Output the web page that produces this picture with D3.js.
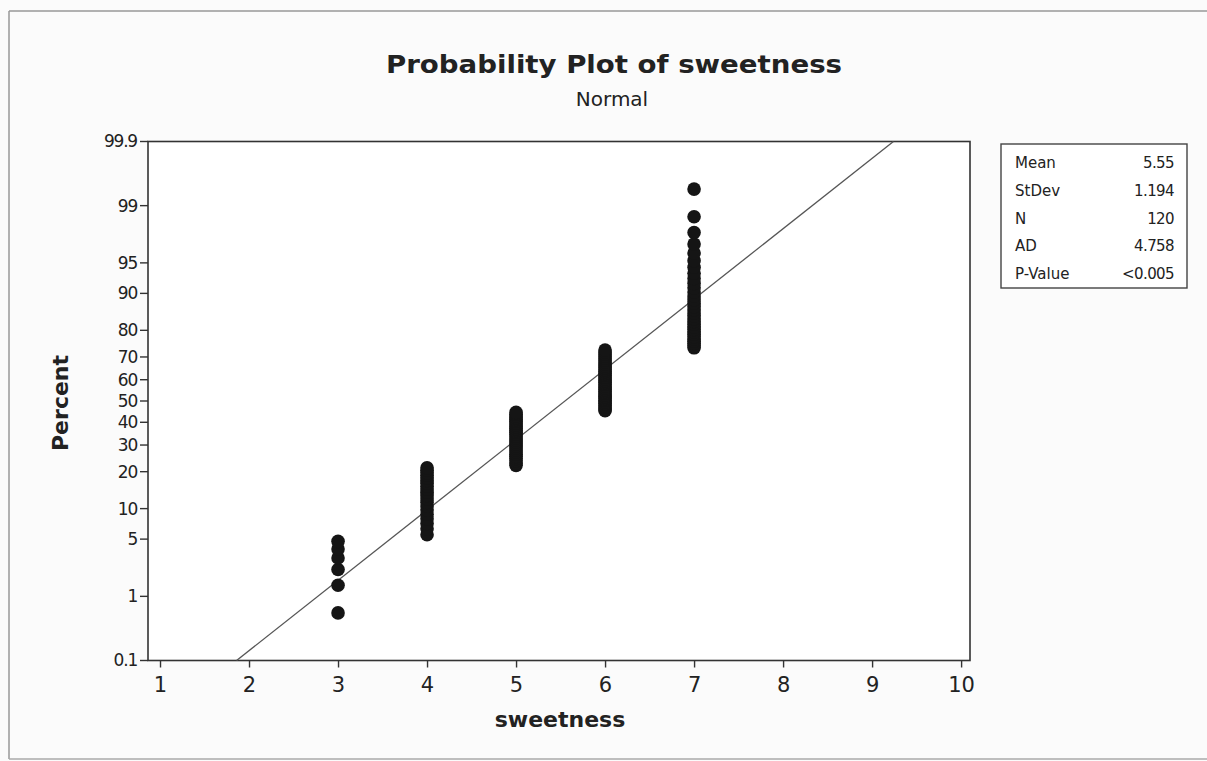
<!DOCTYPE html>
<html>
<head>
<meta charset="utf-8">
<script src="https://cdn.jsdelivr.net/npm/d3@7"></script>
<style>
  body { margin: 0; background: #fbfbfb; }
  text { font-family: "DejaVu Sans", Verdana, sans-serif; fill: #222; }
</style>
</head>
<body>
<div class="chart"></div>
<script>
  // sweetness scores and how many of the 120 tasters gave each one
  var scores = [3, 4, 5, 6, 7];
  var counts = [6, 20, 28, 34, 32];

  // percent axis ticks and x ticks
  var percentTicks = [0.1, 1, 5, 10, 20, 30, 40, 50, 60, 70, 80, 90, 95, 99, 99.9];
  var xTicks = [1, 2, 3, 4, 5, 6, 7, 8, 9, 10];

  // summary table
  var statNames = ['Mean', 'StDev', 'N', 'AD', 'P-Value'];
  var statValues = ['5.55', '1.194', '120', '4.758', '<0.005'];

  var width = 1207;
  var height = 761;

  var svg = d3.select('.chart')
    .append('svg')
    .attr('width', width)
    .attr('height', height);

  // paper border
  svg.append('line').attr('x1', 9).attr('x2', width).attr('y1', 11).attr('y2', 11)
    .attr('stroke', '#999').attr('stroke-width', 1.5);
  svg.append('line').attr('x1', 9).attr('x2', 9).attr('y1', 11).attr('y2', 759)
    .attr('stroke', '#999').attr('stroke-width', 1.5);
  svg.append('line').attr('x1', 9).attr('x2', width).attr('y1', 759).attr('y2', 759)
    .attr('stroke', '#aaa').attr('stroke-width', 1.5);

  // plot frame edges (window.top is taken, so own names)
  var plotLeft = 148, plotRight = 970, plotTop = 141.5, plotBottom = 660.5;

  // inverse normal cdf (Acklam)
  function probit(p) {
    var a = [-39.69683028665376, 220.9460984245205, -275.9285104469687, 138.3577518672690, -30.66479806614716, 2.506628277459239];
    var b = [-54.47609879822406, 161.5858368580409, -155.6989798598866, 66.80131188771972, -13.28068155288572];
    var c = [-0.007784894002430293, -0.3223964580411365, -2.400758277161838, -2.549732539343734, 4.374664141464968, 2.938163982698783];
    var d = [0.007784695709041462, 0.3224671290700398, 2.445134137142996, 3.754408661907416];
    var q, r;
    if (p < 0.02425) {
      q = Math.sqrt(-2 * Math.log(p));
      return (((((c[0]*q+c[1])*q+c[2])*q+c[3])*q+c[4])*q+c[5]) / ((((d[0]*q+d[1])*q+d[2])*q+d[3])*q+1);
    } else if (p > 1 - 0.02425) {
      q = Math.sqrt(-2 * Math.log(1 - p));
      return -(((((c[0]*q+c[1])*q+c[2])*q+c[3])*q+c[4])*q+c[5]) / ((((d[0]*q+d[1])*q+d[2])*q+d[3])*q+1);
    }
    q = p - 0.5; r = q * q;
    return (((((a[0]*r+a[1])*r+a[2])*r+a[3])*r+a[4])*r+a[5])*q / (((((b[0]*r+b[1])*r+b[2])*r+b[3])*r+b[4])*r+1);
  }

  var x = d3.scaleLinear().domain([0.865, 10.1]).range([plotLeft, plotRight]);
  // y works on the z scale of the normal distribution
  var z = d3.scaleLinear().domain([probit(0.001), probit(0.999)]).range([plotBottom, plotTop]);
  var yPct = function(p) { return z(probit(p / 100)); };

  // plot frame
  svg.append('rect')
    .attr('x', plotLeft).attr('y', plotTop)
    .attr('width', plotRight - plotLeft).attr('height', plotBottom - plotTop)
    .attr('fill', '#fff').attr('stroke', '#333').attr('stroke-width', 1.6);

  // x axis
  var xAxis = svg.append('g')
    .attr('transform', 'translate(0,' + plotBottom + ')')
    .call(d3.axisBottom(x).tickValues(xTicks).tickSize(7).tickPadding(10).tickFormat(d3.format('d')));
  xAxis.select('.domain').remove();
  xAxis.selectAll('line').attr('stroke', '#333').attr('stroke-width', 1.4);
  xAxis.selectAll('text').attr('font-size', 21).attr('fill', '#333')
    .style('font-family', '"DejaVu Sans", Verdana, sans-serif');

  // y axis, ticks placed through the probability scale
  var yAxis = svg.append('g')
    .attr('transform', 'translate(' + plotLeft + ',0)');
  percentTicks.forEach(function(p) {
    var yy = yPct(p);
    yAxis.append('line').attr('x1', -8).attr('x2', 0).attr('y1', yy).attr('y2', yy)
      .attr('stroke', '#333').attr('stroke-width', 1.4);
    yAxis.append('text').attr('x', -11).attr('y', yy).attr('dy', '0.35em')
      .attr('text-anchor', 'end').attr('font-size', 17).attr('fill', '#333')
      .attr('letter-spacing', -1.2)
      .text(p);
  });

  // fitted normal line
  var mean = +statValues[0], sd = +statValues[1];
  var lineData = [0.1, 99.9].map(function(p) {
    return { x: mean + sd * probit(p / 100), p: p };
  });
  svg.append('path')
    .datum(lineData)
    .attr('fill', 'none')
    .attr('stroke', '#555')
    .attr('stroke-width', 1.3)
    .attr('d', d3.line().x(function(d) { return x(d.x); }).y(function(d) { return yPct(d.p); }));

  // points: median ranks (i - 0.3) / (n + 0.4)
  var n = d3.sum(counts);
  var points = [];
  var rank = 0;
  scores.forEach(function(s, k) {
    for (var j = 0; j < counts[k]; j++) {
      rank++;
      points.push({ x: s, p: 100 * (rank - 0.3) / (n + 0.4) });
    }
  });
  svg.selectAll('.pt')
    .data(points)
    .enter()
    .append('circle')
    .attr('class', 'pt')
    .attr('cx', function(d) { return x(d.x); })
    .attr('cy', function(d) { return yPct(d.p); })
    .attr('r', 6.8)
    .attr('fill', '#151515');

  // titles
  svg.append('text').attr('x', 614).attr('y', 73).attr('text-anchor', 'middle')
    .attr('font-size', 25).attr('font-weight', 'bold').attr('fill', '#111')
    .attr('textLength', 456).attr('lengthAdjust', 'spacingAndGlyphs')
    .text('Probability Plot of sweetness');
  svg.append('text').attr('x', 612).attr('y', 106).attr('text-anchor', 'middle')
    .attr('font-size', 20).attr('fill', '#333')
    .text('Normal');
  svg.append('text').attr('x', 560).attr('y', 727).attr('text-anchor', 'middle')
    .attr('font-size', 22).attr('font-weight', 'bold').attr('fill', '#111')
    .text('sweetness');
  svg.append('text')
    .attr('transform', 'translate(68,403) rotate(-90)')
    .attr('text-anchor', 'middle')
    .attr('font-size', 22).attr('font-weight', 'bold').attr('fill', '#111')
    .text('Percent');

  // stats box
  var box = svg.append('g');
  box.append('rect').attr('x', 1001).attr('y', 144).attr('width', 186).attr('height', 144)
    .attr('fill', '#fff').attr('stroke', '#444').attr('stroke-width', 1.4);
  statNames.forEach(function(name, i) {
    var yy = 163 + i * 27.7;
    box.append('text').attr('x', 1015).attr('y', yy).attr('dy', '0.35em')
      .attr('font-size', 15).attr('fill', '#333').text(name);
    box.append('text').attr('x', 1174).attr('y', yy).attr('dy', '0.35em')
      .attr('text-anchor', 'end').attr('font-size', 15).attr('fill', '#333')
      .attr('letter-spacing', -0.6).text(statValues[i]);
  });
</script>
</body>
</html>
